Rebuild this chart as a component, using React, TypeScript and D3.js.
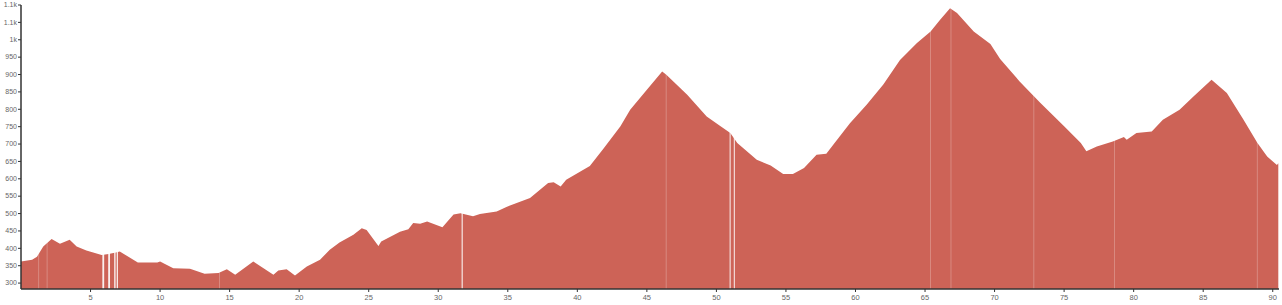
import React from "react";
import * as d3 from "d3";

const distances = [0, 0.8, 1.15, 1.6, 2.2, 2.8, 3.5, 4.0, 4.7, 5.8, 6.3, 6.9, 7.1, 8.4, 9.8, 10.0, 10.95, 12.15, 13.2, 14.2, 14.8, 15.4, 16.7, 18.15, 18.5, 19.1, 19.7, 20.55, 21.5, 22.2, 22.9, 23.9, 24.5, 24.85, 25.7, 25.9, 27.25, 27.85, 28.2, 28.7, 29.2, 30.3, 31.1, 31.6, 32.5, 33.0, 34.2, 34.9, 36.6, 37.9, 38.3, 38.8, 39.2, 40.9, 41.9, 43.1, 43.8, 45.0, 46.1, 46.4, 47.9, 49.3, 50.3, 51.0, 51.5, 52.9, 53.9, 54.8, 55.5, 56.3, 57.2, 57.9, 58.4, 59.6, 60.8, 62.0, 63.2, 64.4, 65.4, 66.1, 66.8, 67.3, 68.5, 69.7, 70.4, 71.8, 73.3, 75.0, 76.2, 76.6, 77.35, 78.5, 79.3, 79.5, 80.2, 81.3, 82.1, 83.3, 84.3, 85.6, 86.7, 87.9, 88.9, 89.6, 90.3, 90.4];
const elevations = [362, 367, 376, 405, 427, 413, 425, 405, 394, 381, 384, 389, 391, 359, 359, 362, 343, 341, 327, 329, 340, 324, 362, 324, 336, 340, 322, 348, 367, 396, 417, 439, 458, 453, 407, 420, 448, 455, 473, 471, 477, 461, 497, 501, 492, 499, 506, 519, 545, 588, 590, 578, 597, 637, 688, 751, 799, 856, 909, 899, 842, 779, 751, 732, 703, 655, 638, 614, 614, 631, 669, 672, 698, 760, 813, 871, 942, 990, 1024, 1058, 1091, 1077, 1024, 988, 945, 880, 818, 751, 703, 679, 693, 707, 720, 712, 732, 736, 770, 799, 837, 885, 847, 770, 703, 664, 640, 645];

const strongGaps: [number, number][] = [[5.85, 5.98], [6.27, 6.4], [6.7, 6.8], [6.88, 6.97], [31.68, 31.76], [50.95, 51.02], [51.25, 51.32]];
const faintGaps: [number, number][] = [[1.25, 1.29], [1.85, 1.89], [14.24, 14.29], [46.36, 46.41], [65.36, 65.4], [66.84, 66.88], [72.8, 72.84], [78.6, 78.65], [88.86, 88.91]];

const yTicks = d3.range(300, 1101, 50);
const xTicks = d3.range(5, 91, 5);

const W = 1282, H = 305;
const M = { left: 21, right: 3, top: 5, bottom: 16 };

export default function App() {
  const x = d3.scaleLinear().domain([0, 90.45]).range([M.left, W - M.right]);
  const y = d3.scaleLinear().domain([283, 1100]).range([H - M.bottom, M.top]);
  const data = distances.map((d, i) => ({ d, e: elevations[i] }));
  const area = d3.area<{ d: number; e: number }>()
    .x(p => x(p.d))
    .y0(y(283))
    .y1(p => y(p.e));
  const fmt = d3.format(".2~s");
  const axisColor = "#333";
  const textColor = "#666";
  return (
    <svg width={W} height={H} style={{ position: "absolute", left: 0, top: 0 }}
      fontFamily="'Liberation Sans', Arial, sans-serif">
      <path d={area(data) || ""} fill="#cd6357" />
      {strongGaps.map(([a, b], i) => (
        <rect key={"s" + i} x={x(a)} width={Math.max(1, x(b) - x(a))} y={y(1100)} height={y(283) - y(1100)} fill="#fff" opacity={0.9} />
      ))}
      {faintGaps.map(([a, b], i) => (
        <rect key={"f" + i} x={x(a)} width={Math.max(0.7, x(b) - x(a))} y={y(1100)} height={y(283) - y(1100)} fill="#fff" opacity={0.35} />
      ))}
      {/* y axis */}
      <line x1={M.left} x2={M.left} y1={M.top} y2={H - M.bottom} stroke={axisColor} strokeWidth={1.5} />
      {yTicks.map(t => (
        <g key={t} transform={`translate(0,${y(t)})`}>
          <line x1={M.left - 3} x2={M.left} stroke={axisColor} />
          <text x={M.left - 4} dy="0.32em" textAnchor="end" fontSize={7} fill={textColor}>{fmt(t)}</text>
        </g>
      ))}
      {/* x axis */}
      <line x1={M.left} x2={W - M.right} y1={H - M.bottom} y2={H - M.bottom} stroke={axisColor} strokeWidth={1.5} />
      {xTicks.map(t => (
        <g key={t} transform={`translate(${x(t)},${H - M.bottom})`}>
          <line y1={0} y2={3} stroke={axisColor} />
          <text y={6} dy="0.71em" textAnchor="middle" fontSize={7.5} fill={textColor}>{t}</text>
        </g>
      ))}
    </svg>
  );
}
